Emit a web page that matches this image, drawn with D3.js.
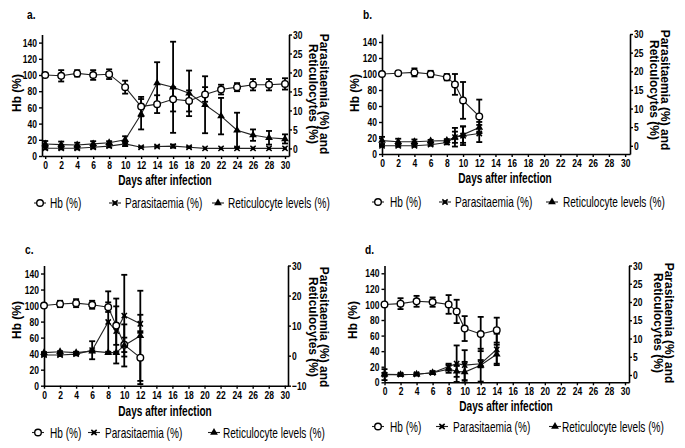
<!DOCTYPE html>
<html><head><meta charset="utf-8">
<script src="https://cdn.jsdelivr.net/npm/d3@7"></script>
<style>body{margin:0;background:#fff}svg{display:block}</style>
</head><body>
<svg id="chart" width="685" height="448"></svg>
<script>
// ---------- DATA ----------
const xTicks = [0,2,4,6,8,10,12,14,16,18,20,22,24,26,28,30];
const hbTicks = [0,20,40,60,80,100,120,140];
const rightTicks5 = [0,5,10,15,20,25,30];
const rightTicks10 = [-10,0,10,20,30];
const panelTitles = ["a.","b.","c.","d."];
const legendLabels = ["Hb (%)","Parasitaemia (%)","Reticulocyte levels (%)"];
const xLabel = "Days after infection";
const yLabel = "Hb (%)";
const rLabel = ["Parasitaemia (%) and","Reticulocytes (%)"];

const daysA = [0,2,4,6,8,10,12,14,16,18,20,22,24,26,28,30];
const hbA = [100,99,102,100,101,85,61,64,70,68,76,82,85,88,88,89];
const hbErrA = [0,7,4,6,6,8,12,11,15,13,9,6,5,7,7,7];
const parA = [0.05,0.05,0.05,0.3,0.6,1.2,0.3,0.5,0.6,0.3,0,0,0,0,0,0];
const parErrA = [0.3,0.3,0.3,0.3,0.3,0.6,0.1,0.1,0.4,0.1,0,0,0,0,0,0];
const retA = [1.15,1.0,0.9,1.2,1.5,2.3,9.0,17.2,16.1,14.5,11.5,8.5,4.8,3.5,2.8,2.5];
const retErrA = [0.8,0.8,0.6,0.7,0.4,0.9,4,5.5,12,6,7.5,4.8,4.6,1.5,1.8,1.2];

const daysB = [0,2,4,6,8,9,10,12];
const hbB = [100,101,102,100,96,87,67,47];
const hbErrB = [0,2,5,4,4,13,23,21];
const parB = [0,0,0,0.3,0.9,2.3,2.7,3.3];
const parErrB = [0.2,0.2,0.2,0.2,0.5,1.5,2.5,2.3];
const retB = [1.4,1.1,1.1,1.3,1.4,2.3,3.0,4.9];
const retErrB = [1,0.8,0.6,0.3,0.4,2.5,2.2,1.5];

const daysC = [0,2,4,6,8,9,10,12];
const hbC = [100,102,103,101,98,75,51,35];
const hbErrC = [0,4,5,5,6,24,9,33];
const parC = [0.2,0.2,0.5,1.8,11.2,8.2,13.3,10.6];
const parErrC = [0.3,0.3,0.4,3,10.2,10.8,13.6,3];
const retC = [1.0,1.3,1.0,1.5,1.0,1.0,3.4,6.6];
const retErrC = [0.2,0.2,0.3,0.3,0.3,0.3,7,15];

const daysD = [0,2,4,6,8,9,10,12,14];
const hbD = [100,101,104,103,100,91,69,62,67];
const hbErrD = [0,7,7,6,12,15,16,22,16];
const parD = [0.1,0.1,0.2,0.6,2.3,3.1,2.7,3.1,7.0];
const parErrD = [1.5,0.2,0.2,0.3,0.8,5,4.1,1,4.3];
const retD = [0.2,0.1,0.2,0.6,1.6,1.0,0.8,2.7,5.7];
const retErrD = [0.3,0.2,0.2,0.3,1,1.5,2.8,4.5,2.6];

// ---------- LAYOUT ----------
const panels = [
 {t:0, days:daysA, hb:hbA, hbE:hbErrA, par:parA, parE:parErrA, ret:retA, retE:retErrA,
  x0:42, x1:289, xd:[-0.4,30.5], top:34.5, bot:156, rd:[-2,30], rt:rightTicks5,
  title:[27,19], xl:[165,185], yl:[21,93], rl:[320,94], leg:{y:203, m:[40,115,218], tx:[50,125,228]}},
 {t:1, days:daysB, hb:hbB, hbE:hbErrB, par:parB, parE:parErrB, ret:retB, retE:retErrB,
  x0:382, x1:630, xd:[0,30.6], top:34, bot:154, rd:[-2.2,30], rt:rightTicks5,
  title:[363,19], xl:[505,183], yl:[359,93], rl:[661,90], leg:{y:202, m:[378,445,552], tx:[390,455,563]}},
 {t:2, days:daysC, hb:hbC, hbE:hbErrC, par:parC, parE:parErrC, ret:retC, retE:retErrC,
  x0:44, x1:288, xd:[0,30.4], top:265.5, bot:385.7, rd:[-10,30], rt:rightTicks10,
  title:[25,254], xl:[165,416], yl:[21,320], rl:[320,327], leg:{y:432.5, m:[38,94,214], tx:[50,105,223]}},
 {t:3, days:daysD, hb:hbD, hbE:hbErrD, par:parD, parE:parErrD, ret:retD, retE:retErrD,
  x0:384.5, x1:629, xd:[0,30.5], top:265.5, bot:382.3, rd:[-2,30], rt:rightTicks5,
  title:[365,254], xl:[506,411], yl:[357,320], rl:[665,323], leg:{y:426.5, m:[378,442,555], tx:[390,453,562]}}
];

const FONT = "'Liberation Sans', Arial, sans-serif";
const SX = 0.74;
const svg = d3.select("#chart");

function txt(g, x, y, s, o={}) {
  const size=o.size||12, sx=o.sx==null?SX:o.sx, rot=o.rot||0;
  return g.append("text")
    .attr("transform", `translate(${x},${y}) rotate(${rot}) scale(${sx},1)`)
    .attr("text-anchor", o.anchor||"start")
    .attr("font-family", FONT).attr("font-size", size)
    .attr("font-weight", o.weight||"normal").attr("fill", "#000").text(s);
}

function marker(g, type, x, y) {
  if (type === "hb") {
    g.append("circle").attr("cx",x).attr("cy",y).attr("r",3.3)
      .attr("fill","#fff").attr("stroke","#000").attr("stroke-width",1.4);
  } else if (type === "par") {
    g.append("path").attr("transform",`translate(${x},${y})`)
      .attr("d", d3.symbol(d3.symbolTimes, 20)())
      .attr("fill","none").attr("stroke","#000").attr("stroke-width",1.5);
    g.append("path").attr("transform",`translate(${x},${y})`)
      .attr("d", d3.symbol(d3.symbolSquare, 12)()).attr("fill","#000");
  } else {
    g.append("path").attr("transform",`translate(${x},${y})`)
      .attr("d", d3.symbol(d3.symbolTriangle, 26)()).attr("fill","#000");
  }
}

panels.forEach(p => {
  const g = svg.append("g");
  const x = d3.scaleLinear().domain(p.xd).range([p.x0, p.x1]);
  const yL = d3.scaleLinear().domain([0,150]).range([p.bot, p.top]);
  const yR = d3.scaleLinear().domain(p.rd).range([p.bot, p.top]);

  // axes
  const ax = g.append("g").attr("transform",`translate(0,${p.bot})`)
    .call(d3.axisBottom(x).tickValues(xTicks).tickSize(3).tickPadding(2).tickSizeOuter(0));
  const al = g.append("g").attr("transform",`translate(${p.x0},0)`)
    .call(d3.axisLeft(yL).tickValues(hbTicks).tickSize(3).tickPadding(1).tickSizeOuter(0));
  const ar = g.append("g").attr("transform",`translate(${p.x1},0)`)
    .call(d3.axisRight(yR).tickValues(p.rt).tickSize(3).tickPadding(1).tickSizeOuter(0));
  [ax,al,ar].forEach(a => {
    a.select(".domain").attr("stroke","#000").attr("stroke-width",1.6);
    a.selectAll(".tick line").attr("stroke","#000").attr("stroke-width",1.4);
    a.selectAll(".tick text").attr("font-family",FONT).attr("font-size",11.5)
      .attr("font-weight","bold").attr("fill","#000");
  });
  al.selectAll(".tick text").attr("transform",`scale(${SX},1)`).attr("x",-5/SX);
  ar.selectAll(".tick text").attr("transform",`scale(${SX},1)`).attr("x",4/SX);
  ax.selectAll(".tick text").attr("transform",`scale(${SX},1)`).attr("dy","0.78em").attr("y",4);

  // series
  const series = [
    {k:"hb", v:p.hb, e:p.hbE, y:yL},
    {k:"par", v:p.par, e:p.parE, y:yR},
    {k:"ret", v:p.ret, e:p.retE, y:yR}
  ];
  // error bars
  series.forEach(s => {
    p.days.forEach((d,i) => {
      if (!s.e[i]) return;
      const xx = x(d), y1 = s.y(s.v[i]-s.e[i]), y2 = s.y(s.v[i]+s.e[i]);
      g.append("line").attr("x1",xx).attr("x2",xx).attr("y1",y1).attr("y2",y2)
        .attr("stroke","#000").attr("stroke-width",1.8);
      [y1,y2].forEach(yy => g.append("line").attr("x1",xx-3).attr("x2",xx+3)
        .attr("y1",yy).attr("y2",yy).attr("stroke","#000").attr("stroke-width",1.8));
    });
  });
  // lines
  series.forEach(s => {
    const line = d3.line().x((d,i)=>x(d)).y((d,i)=>s.y(s.v[i]));
    g.append("path").attr("d", line(p.days)).attr("fill","none")
      .attr("stroke","#222").attr("stroke-width",1.1);
  });
  // markers
  series.forEach(s => p.days.forEach((d,i) => marker(g, s.k, x(d), s.y(s.v[i]))));

  // texts
  txt(g, p.title[0], p.title[1], panelTitles[p.t], {size:12, weight:"bold", sx:0.85});
  txt(g, p.xl[0], p.xl[1], xLabel, {size:14, weight:"bold", anchor:"middle", sx:0.72});
  txt(g, p.yl[0], p.yl[1], yLabel, {size:12, weight:"bold", anchor:"middle", sx:1, rot:-90});
  txt(g, p.rl[0], p.rl[1], rLabel[0], {size:12, weight:"bold", anchor:"middle", sx:1, rot:90});
  txt(g, p.rl[0]-11, p.rl[1], rLabel[1], {size:12, weight:"bold", anchor:"middle", sx:1, rot:90});

  // legend
  ["hb","par","ret"].forEach((k,i) => {
    const mx = p.leg.m[i], my = p.leg.y;
    g.append("line").attr("x1",mx-6).attr("x2",mx+6).attr("y1",my).attr("y2",my)
      .attr("stroke","#222").attr("stroke-width",1.1);
    marker(g, k, mx, my);
    txt(g, p.leg.tx[i], my+5, legendLabels[i], {size:14, sx:0.72});
  });
});
</script>
</body></html>
